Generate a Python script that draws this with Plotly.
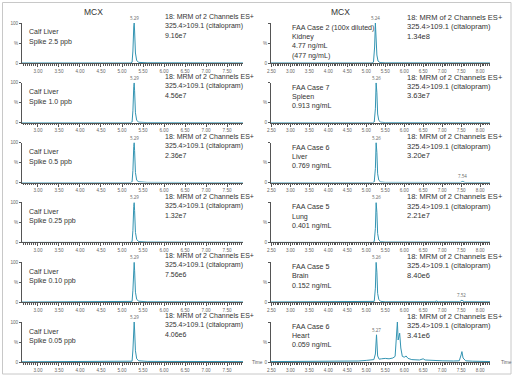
import plotly.graph_objects as go

W, H = 515, 377

# ---------------- data ----------------
spike_labels = ["Spike 2.5 ppb", "Spike 1.0 ppb", "Spike 0.5 ppb", "Spike 0.25 ppb", "Spike 0.10 ppb", "Spike 0.05 ppb"]
left_intensity = ["9.16e7", "4.56e7", "2.36e7", "1.32e7", "7.56e6", "4.06e6"]
left_rt = ["5.29", "5.29", "5.29", "5.29", "5.29", "5.29"]

right_case = [["FAA Case 2 (100x diluted)", "Kidney", "4.77 ng/mL", "(477 ng/mL)"],
              ["FAA Case 7", "Spleen", "0.913 ng/mL"],
              ["FAA Case 6", "Liver", "0.769 ng/mL"],
              ["FAA Case 5", "Lung", "0.401 ng/mL"],
              ["FAA Case 5", "Brain", "0.152 ng/mL"],
              ["FAA Case 6", "Heart", "0.059 ng/mL"]]
right_intensity = ["1.34e8", "3.63e7", "3.20e7", "2.21e7", "8.40e6", "3.41e6"]
right_rt = ["5.24", "5.26", "5.26", "5.26", "5.26", "5.27"]

# chromatograms (time, % intensity)
left_t = [
    [2.60, 5.20, 5.24, 5.26, 5.28, 5.29, 5.30, 5.32, 5.35, 5.40, 5.60, 7.95],
    [2.60, 5.20, 5.24, 5.26, 5.28, 5.29, 5.30, 5.32, 5.35, 5.40, 5.60, 7.95],
    [2.60, 5.20, 5.24, 5.26, 5.28, 5.29, 5.30, 5.32, 5.35, 5.40, 5.60, 7.95],
    [2.60, 5.20, 5.24, 5.26, 5.28, 5.29, 5.30, 5.32, 5.35, 5.40, 5.60, 7.95],
    [2.60, 5.20, 5.24, 5.26, 5.28, 5.29, 5.30, 5.32, 5.35, 5.40, 5.60, 7.95],
    [2.60, 5.20, 5.24, 5.26, 5.28, 5.29, 5.30, 5.32, 5.35, 5.40, 5.60, 7.95],
]
left_y = [
    [0, 0, 2, 30, 90, 100, 80, 25, 6, 1.5, 0.5, 0],
    [0, 0, 2, 30, 90, 100, 80, 25, 6, 1.5, 0.5, 0],
    [0, 0, 2, 30, 90, 100, 80, 25, 6, 2, 0.5, 0],
    [0, 0, 2, 30, 90, 100, 80, 25, 7, 2, 0.8, 0.2],
    [0.3, 0.3, 2, 30, 90, 100, 80, 25, 7, 2.5, 1, 0.5],
    [0.5, 0.5, 2, 30, 90, 100, 80, 28, 8, 3, 1.5, 1],
]
right_t = [
    [2.45, 5.15, 5.19, 5.22, 5.24, 5.26, 5.28, 5.31, 5.36, 5.50, 8.30],
    [2.45, 5.17, 5.21, 5.24, 5.26, 5.28, 5.30, 5.33, 5.38, 5.50, 8.30],
    [2.45, 5.17, 5.21, 5.24, 5.26, 5.28, 5.30, 5.33, 5.38, 5.50, 7.48, 7.54, 7.60, 8.30],
    [2.45, 5.17, 5.21, 5.24, 5.26, 5.28, 5.30, 5.33, 5.38, 5.50, 8.30],
    [2.45, 5.17, 5.21, 5.24, 5.26, 5.28, 5.30, 5.33, 5.38, 5.50, 6.80, 6.85, 6.90, 7.46, 7.52, 7.58, 8.30],
    [2.45, 3.00, 3.50, 4.00, 4.50, 4.80, 5.00, 5.10, 5.20, 5.24, 5.27, 5.30, 5.34, 5.40, 5.50,
     5.60, 5.70, 5.76, 5.80, 5.82, 5.84, 5.86, 5.88, 5.91, 5.95, 6.00, 6.05, 6.10, 6.20,
     6.40, 6.50, 6.55, 6.70, 7.00, 7.30, 7.45, 7.50, 7.52, 7.55, 7.62, 7.80, 8.00, 8.30],
]
right_y = [
    [0, 0, 2, 40, 100, 70, 20, 5, 1, 0.3, 0],
    [0, 0, 2, 35, 100, 75, 22, 6, 1.5, 0.5, 0],
    [0, 0, 2, 35, 100, 75, 22, 6, 1.5, 0.5, 0.3, 3, 0.3, 0.2],
    [0, 0, 2, 35, 100, 75, 22, 6, 1.5, 0.8, 0.5],
    [0.5, 0.5, 2, 35, 100, 75, 22, 7, 2, 1, 1, 3, 1, 1, 5, 1, 0.8],
    [1, 1, 1, 1.5, 2, 2.5, 4, 5, 6, 20, 68, 15, 7, 8, 9,
     8, 10, 14, 60, 100, 55, 62, 72, 35, 14, 12, 15, 9, 6,
     5, 8, 5, 4, 3, 2.5, 3, 18, 26, 10, 3, 2, 1.5, 1],
]

# ---------------- layout helpers ----------------
LINE = "#3394b2"
AX = "#555555"
TXT = "#333333"
FAM = "Liberation Sans"

def px_x(p):
    return p / W

def px_y(p):
    return 1 - p / H

fig = go.Figure()
annotations = []

left_dom = [px_x(22), px_x(243)]
right_dom = [px_x(271), px_x(490)]
left_range = [2.62, 7.88]
right_range = [2.49, 8.26]

def txt(x, y, s, size, color=TXT, anchor="left"):
    annotations.append(dict(x=px_x(x), y=px_y(y), xref="paper", yref="paper", text=s,
                            showarrow=False, xanchor=anchor, yanchor="middle",
                            font=dict(size=size, color=color, family=FAM)))

for k in range(6):
    top = 23 + 59.8 * k
    bot = 63 + 59.8 * k
    ydom = [px_y(bot), px_y(top)]
    for side in range(2):
        idx = 2 * k + side + 1
        xa = "x" if idx == 1 else f"x{idx}"
        ya = "y" if idx == 1 else f"y{idx}"
        if side == 0:
            t, y = left_t[k], left_y[k]
            dom, rng, t0 = left_dom, left_range, 3.0
            ytext = ["0", "%", "100"]
        else:
            t, y = right_t[k], right_y[k]
            dom, rng, t0 = right_dom, right_range, 2.5
            ytext = ["0", "%", ""]
        fig.add_trace(go.Scatter(x=t, y=y, mode="lines", xaxis=xa, yaxis=ya,
                                 line=dict(color=LINE, width=1), showlegend=False,
                                 hoverinfo="skip"))
        xkey = "xaxis" if idx == 1 else f"xaxis{idx}"
        ykey = "yaxis" if idx == 1 else f"yaxis{idx}"
        fig.layout[xkey] = dict(domain=dom, range=rng, anchor=ya, showgrid=False, zeroline=False,
                                automargin=False,
                                showline=True, linecolor=AX, linewidth=1,
                                tick0=t0, dtick=0.5, tickformat=".2f", ticks="outside",
                                ticklen=3, tickcolor=AX, tickwidth=1,
                                tickfont=dict(size=4.6, color="#666666", family=FAM),
                                minor=dict(dtick=0.05, ticks="outside", ticklen=1.5, tickcolor=AX),
                                fixedrange=True)
        fig.layout[ykey] = dict(domain=ydom, range=[0, 100], anchor=xa, showgrid=False, zeroline=False,
                                automargin=False,
                                showline=True, linecolor=AX, linewidth=1,
                                tickvals=[0, 50, 100], ticktext=ytext, ticks="outside",
                                ticklen=2, tickcolor=AX,
                                tickfont=dict(size=4.6, color="#666666", family=FAM),
                                fixedrange=True)
        # retention time label
        rt = left_rt[k] if side == 0 else right_rt[k]
        ypk = 100 if not (side == 1 and k == 5) else 68
        annotations.append(dict(x=float(rt), y=ypk, xref=xa, yref=ya, text=rt, showarrow=False,
                                yanchor="bottom", yshift=0, font=dict(size=4.5, color="#666666")))
        if side == 0:
            mrm = ["18: MRM of 2 Channels ES+", "325.4>109.1 (citalopram)", left_intensity[k]]
            for j, line in enumerate(mrm):
                txt(163, top - 6.3 + 9.5 * j, line, 7.0)
            for j, line in enumerate(["Calf Liver", spike_labels[k]]):
                txt(27, top + 9 + 10.0 * j, line, 7.0)
        else:
            mrm = ["18: MRM of 2 Channels ES+", "325.4>109.1 (citalopram)", right_intensity[k]]
            for j, line in enumerate(mrm):
                txt(405, top - 5.8 + 9.5 * j, line, 7.5)
            for j, line in enumerate(right_case[k]):
                txt(290, top + 5 + 9.2 * j, line, 7.1)

# extra small peak labels
annotations.append(dict(x=7.54, y=3, xref="x6", yref="y6", text="7.54", showarrow=False,
                        yanchor="bottom", font=dict(size=4.5, color="#666666")))
annotations.append(dict(x=7.52, y=5, xref="x10", yref="y10", text="7.52", showarrow=False,
                        yanchor="bottom", font=dict(size=4.5, color="#666666")))

# titles
txt(93, 12, "MCX", 8.5, anchor="center")
txt(340, 12, "MCX", 8.5, anchor="center")
# Time labels
txt(250, 362, "Time", 4.8, color="#666666")
txt(499, 362, "Time", 4.8, color="#666666")

fig.update_layout(width=W, height=H, margin=dict(l=0, r=0, t=0, b=0, autoexpand=False),
                  paper_bgcolor="white", plot_bgcolor="white", annotations=annotations,
                  shapes=[dict(type="rect", xref="paper", yref="paper",
                               x0=px_x(2.5), x1=px_x(511), y0=px_y(374), y1=px_y(2.5),
                               line=dict(color="#c8c8c8", width=1))])

fig.write_html("out.html", config={"displayModeBar": False},
               post_script="document.body.style.margin='0';document.body.style.overflow='hidden';")
